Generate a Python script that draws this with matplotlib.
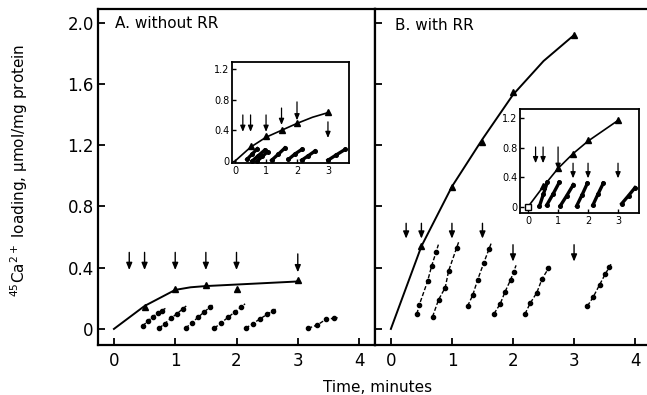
import numpy as np
import matplotlib
matplotlib.use("Agg")
import matplotlib.pyplot as plt

plt.rcParams['font.family'] = ['DejaVu Sans']

# ---------------- data ----------------
# Panel A main curve (triangles) and fitted line
triA_x = [0.5, 1.0, 1.5, 2.0, 3.0]
triA_y = [0.145, 0.26, 0.287, 0.26, 0.32]
lineA_x = [0.0, 0.5, 1.0, 1.25, 1.5, 2.0, 3.0]
lineA_y = [0.0, 0.15, 0.255, 0.272, 0.28, 0.29, 0.31]
arrowA_x = [0.25, 0.5, 1.0, 1.5, 2.0, 3.0]
arrowA_top = [0.50, 0.50, 0.50, 0.50, 0.50, 0.49]
arrowA_bot = [0.385, 0.385, 0.385, 0.385, 0.385, 0.37]
serA_x = [[0.47, 0.56, 0.64, 0.72, 0.78],
          [0.74, 0.83, 0.93, 1.03, 1.12],
          [1.17, 1.27, 1.37, 1.47, 1.56],
          [1.64, 1.75, 1.86, 1.97, 2.08],
          [2.15, 2.27, 2.38, 2.50, 2.60],
          [3.17, 3.32, 3.46, 3.59]]
serA_y = [[0.02, 0.054, 0.08, 0.106, 0.12],
          [0.005, 0.035, 0.07, 0.10, 0.13],
          [0.005, 0.04, 0.075, 0.11, 0.14],
          [0.005, 0.04, 0.075, 0.11, 0.145],
          [0.005, 0.035, 0.065, 0.095, 0.12],
          [0.004, 0.026, 0.063, 0.07]]

# Panel B main curve
triB_x = [0.5, 1.0, 1.5, 2.0, 3.0]
triB_y = [0.54, 0.93, 1.22, 1.55, 1.92]
lineB_x = [0.0, 0.5, 1.0, 1.5, 2.0, 2.5, 3.0]
lineB_y = [0.0, 0.54, 0.93, 1.24, 1.53, 1.75, 1.92]
arrowB_x = [0.25, 0.5, 1.0, 1.5, 2.0, 3.0]
arrowB_top = [0.69, 0.69, 0.69, 0.69, 0.55, 0.55]
arrowB_bot = [0.59, 0.59, 0.59, 0.59, 0.44, 0.44]
serB_x = [[0.426, 0.464, 0.60, 0.667, 0.738],
          [0.683, 0.78, 0.89, 0.946, 1.077],
          [1.257, 1.34, 1.42, 1.52, 1.61],
          [1.69, 1.79, 1.87, 1.96, 2.01],
          [2.197, 2.28, 2.39, 2.475, 2.58],
          [3.22, 3.31, 3.42, 3.51, 3.58]]
serB_y = [[0.098, 0.156, 0.31, 0.41, 0.50],
          [0.08, 0.19, 0.27, 0.38, 0.53],
          [0.15, 0.22, 0.32, 0.43, 0.525],
          [0.10, 0.163, 0.243, 0.32, 0.373],
          [0.098, 0.167, 0.237, 0.326, 0.395],
          [0.15, 0.206, 0.29, 0.358, 0.406]]

# Inset A
itriA_x = [0.5, 1.0, 1.5, 2.0, 3.0]
itriA_y = [0.19, 0.32, 0.40, 0.50, 0.64]
ilineA_x = [0.0, 0.5, 1.0, 1.5, 2.0, 2.5, 3.0]
ilineA_y = [0.0, 0.18, 0.31, 0.40, 0.49, 0.57, 0.63]
iarrA_x = [0.25, 0.5, 1.0, 1.5, 2.0, 3.0]
iarrA_top = [0.60, 0.60, 0.60, 0.69, 0.77, 0.51]
iarrA_bot = [0.38, 0.38, 0.38, 0.47, 0.53, 0.30]
iserA_x = [[0.38, 0.55, 0.72], [0.55, 0.75, 0.95], [0.72, 0.88, 1.05],
           [1.18, 1.40, 1.61], [1.72, 1.93, 2.15], [2.15, 2.37, 2.58],
           [3.0, 3.27, 3.55]]
iserA_y = [[0.02, 0.09, 0.16], [0.0, 0.07, 0.14], [0.0, 0.06, 0.12],
           [0.01, 0.09, 0.17], [0.02, 0.09, 0.15], [0.01, 0.07, 0.13],
           [0.01, 0.08, 0.15]]

# Inset B
itriB_x = [0.5, 1.0, 1.5, 2.0, 3.0]
itriB_y = [0.28, 0.52, 0.72, 0.90, 1.18]
ilineB_x = [0.0, 0.5, 1.0, 1.5, 2.0, 3.0]
ilineB_y = [0.0, 0.27, 0.52, 0.72, 0.89, 1.17]
iarrB_x = [0.25, 0.5, 1.0, 1.5, 2.0, 3.0]
iarrB_top = [0.81, 0.81, 0.81, 0.59, 0.59, 0.59]
iarrB_bot = [0.59, 0.59, 0.50, 0.385, 0.385, 0.385]
iserB_x = [[0.38, 0.51, 0.64], [0.62, 0.83, 1.04], [1.07, 1.29, 1.51],
           [1.62, 1.80, 1.98], [2.16, 2.33, 2.51], [3.12, 3.35, 3.57]]
iserB_y = [[0.01, 0.17, 0.33], [0.02, 0.17, 0.33], [0.01, 0.15, 0.30],
           [0.01, 0.16, 0.32], [0.02, 0.17, 0.32], [0.04, 0.15, 0.26]]

main_yticks = [0, 0.4, 0.8, 1.2, 1.6, 2.0]
main_ylabels = ['0', '0.4', '0.8', '1.2', '1.6', '2.0']
main_xticks = [0, 1, 2, 3, 4]
inset_yticks = [0, 0.4, 0.8, 1.2]
inset_ylabels = ['0', '0.4', '0.8', '1.2']
inset_xticks = [0, 1, 2, 3]

# ---------------- drawing ----------------
W, H = 647, 395
fig = plt.figure(figsize=(W / 100, H / 100), dpi=100)


def px_axes(l, r, t, b):
    return fig.add_axes([l / W, (H - b) / H, (r - l) / W, (b - t) / H])


def arrows(ax, xs, tops, bots, lw=1.0, ms=7):
    for x, t, b in zip(xs, tops, bots):
        ax.annotate('', xy=(x, b), xytext=(x, t),
                    arrowprops=dict(arrowstyle='-|>,head_width=0.25,head_length=0.6',
                                    lw=lw, color='k',
                                    mutation_scale=ms, shrinkA=0, shrinkB=0))


def series(ax, xs, ys, ms=3.0, lw=1.0, ext=0.06):
    for x, y in zip(xs, ys):
        x = np.asarray(x); y = np.asarray(y)
        slope = (y[-1] - y[-2]) / (x[-1] - x[-2])
        xe = np.append(x, x[-1] + ext)
        ye = np.append(y, y[-1] + slope * ext)
        ax.plot(xe, ye, color='k', lw=lw, ls=(0, (3, 1.5)))
        ax.plot(x, y, 'o', color='k', ms=ms)


def style_main(ax, ylabels=True):
    ax.set_xlim(-0.26, 4.26)
    ax.set_ylim(-0.105, 2.09)
    ax.set_yticks(main_yticks)
    ax.set_xticks(main_xticks)
    ax.set_xticklabels([str(t) for t in main_xticks])
    if ylabels:
        ax.set_yticklabels(main_ylabels)
    else:
        ax.set_yticklabels([])
    ax.tick_params(direction='in', length=5, width=1.3, labelsize=12)
    ax.tick_params(axis='y', pad=3)
    ax.tick_params(axis='x', pad=5)
    for s in ax.spines.values():
        s.set_linewidth(1.6)


def style_inset(ax, xlim, ylim):
    ax.set_xlim(*xlim)
    ax.set_ylim(*ylim)
    ax.set_yticks(inset_yticks)
    ax.set_yticklabels(inset_ylabels)
    ax.set_xticks(inset_xticks)
    ax.set_xticklabels([str(t) for t in inset_xticks])
    ax.tick_params(direction='in', length=3, width=1.0, labelsize=7, pad=2)
    ax.set_facecolor('white')
    for s in ax.spines.values():
        s.set_linewidth(1.3)


axA = px_axes(98, 375, 9, 345)
style_main(axA)
axA.plot(lineA_x, lineA_y, color='k', lw=1.4)
axA.plot(triA_x, triA_y, '^', color='k', ms=5)
arrows(axA, arrowA_x, arrowA_top, arrowA_bot)
series(axA, serA_x, serA_y)
axA.text(0.061, 0.958, 'A. without RR', transform=axA.transAxes,
         fontsize=11, va='center', ha='left')

fig.text(19 / W, 1 - 170 / H, '$^{45}$Ca$^{2+}$ loading, μmol/mg protein',
         fontsize=11, rotation=90, ha='center', va='center')

axB = px_axes(375, 651, 9, 345)
style_main(axB, ylabels=False)
axB.plot(lineB_x, lineB_y, color='k', lw=1.4)
axB.plot(triB_x, triB_y, '^', color='k', ms=5)
arrows(axB, arrowB_x, arrowB_top, arrowB_bot)
series(axB, serB_x, serB_y, ext=0.04)
axB.text(0.073, 0.952, 'B. with RR', transform=axB.transAxes,
         fontsize=11, va='center', ha='left')

fig.text(378 / W, 1 - 387 / H, 'Time, minutes', fontsize=11,
         ha='center', va='center')

# Inset A
iA = px_axes(232, 349, 62, 163)
style_inset(iA, (-0.1, 3.68), (-0.026, 1.29))
iA.plot(ilineA_x, ilineA_y, color='k', lw=1.2)
iA.plot(itriA_x, itriA_y, '^', color='k', ms=4)
arrows(iA, iarrA_x, iarrA_top, iarrA_bot, lw=0.9, ms=6)
for x, y in zip(iserA_x, iserA_y):
    iA.plot(x, y, '-o', color='k', lw=2.4, ms=2.6)

# Inset B
iB = px_axes(520, 639, 109, 213)
style_inset(iB, (-0.27, 3.7), (-0.085, 1.325))
iB.plot(ilineB_x, ilineB_y, color='k', lw=1.2)
iB.plot(itriB_x, itriB_y, '^', color='k', ms=4)
iB.plot([0], [0], 's', mfc='white', mec='k', ms=4)
arrows(iB, iarrB_x, iarrB_top, iarrB_bot, lw=0.9, ms=6)
for x, y in zip(iserB_x, iserB_y):
    iB.plot(x, y, '-o', color='k', lw=2.4, ms=2.6)

fig.savefig('out.png', dpi=100)
